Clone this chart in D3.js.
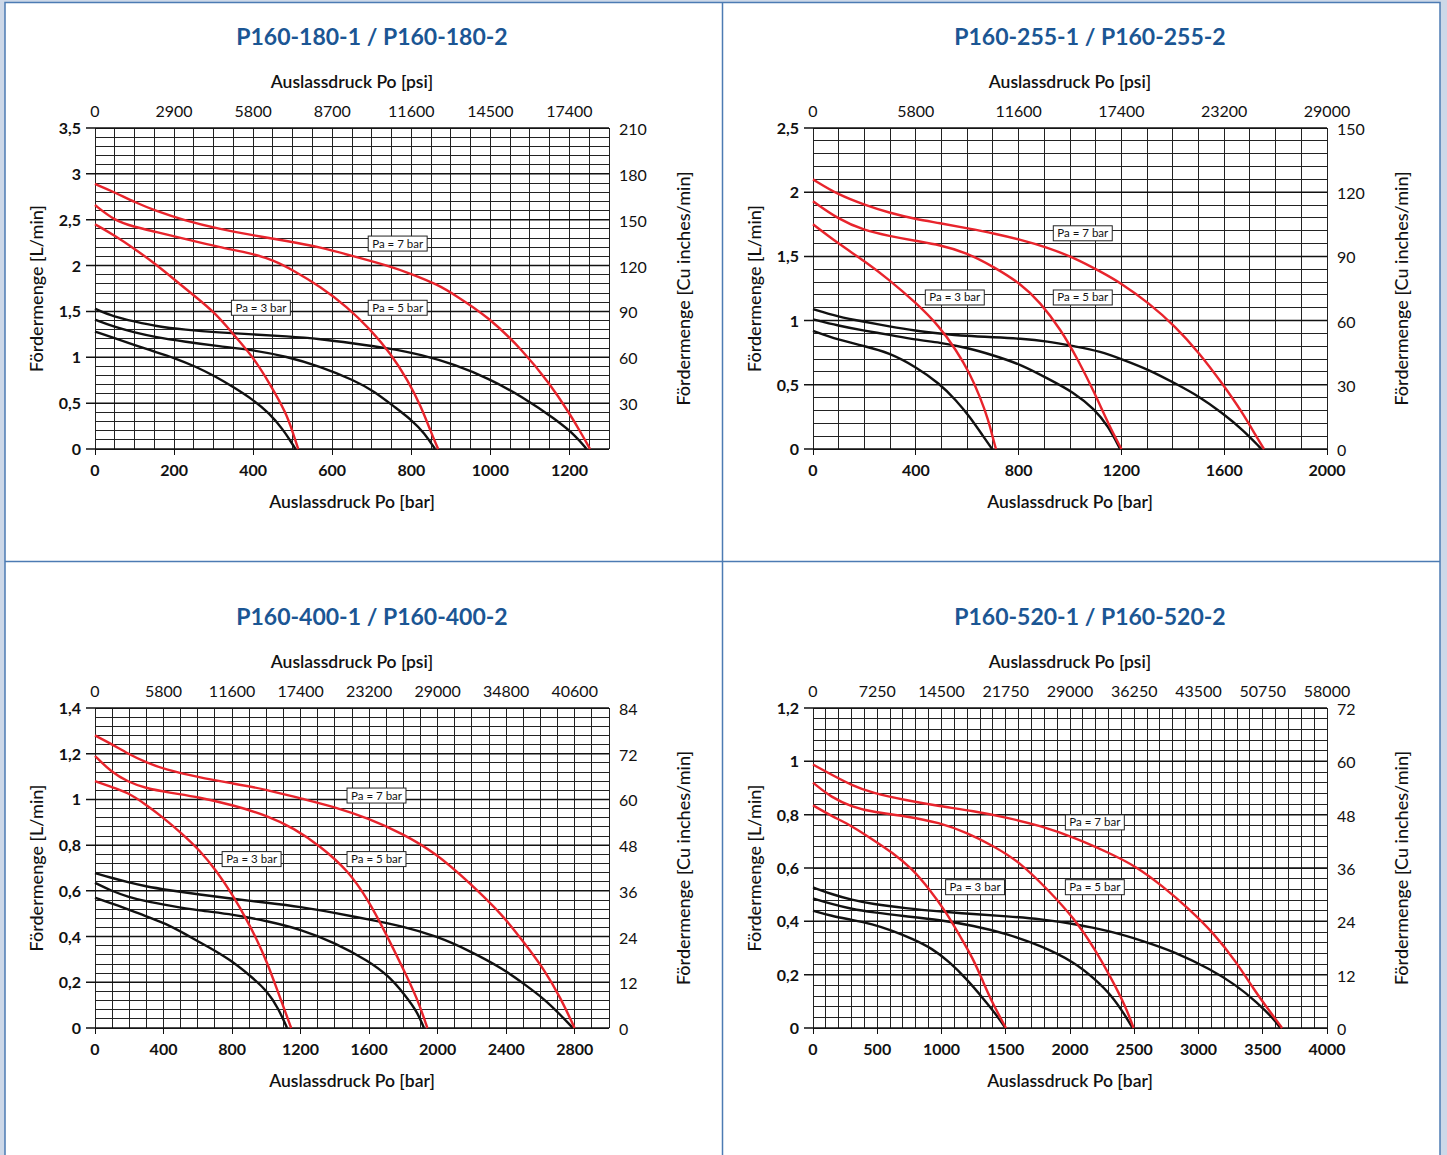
<!DOCTYPE html>
<html>
<head>
<meta charset="utf-8">
<script src="https://cdn.jsdelivr.net/npm/d3@7"></script>
<style>
  body { margin: 0; background: #fff; }
  text { font-family: Lato, "Open Sans", sans-serif; fill: #111; }
</style>
</head>
<body>
<svg></svg>
<script>
// ---- data ----
const titles = ["P160-180-1 / P160-180-2", "P160-255-1 / P160-255-2",
    "P160-400-1 / P160-400-2", "P160-520-1 / P160-520-2"];

const barMax = [1300, 2000, 3000, 4000];
const flowMax = [3.5, 2.5, 1.4, 1.2];

const barTicks180 = [0, 200, 400, 600, 800, 1000, 1200];
const barTicks255 = [0, 400, 800, 1200, 1600, 2000];
const barTicks400 = [0, 400, 800, 1200, 1600, 2000, 2400, 2800];
const barTicks520 = [0, 500, 1000, 1500, 2000, 2500, 3000, 3500, 4000];

const psiTicks180 = [0, 2900, 5800, 8700, 11600, 14500, 17400];
const psiTicks255 = [0, 5800, 11600, 17400, 23200, 29000];
const psiTicks400 = [0, 5800, 11600, 17400, 23200, 29000, 34800, 40600];
const psiTicks520 = [0, 7250, 14500, 21750, 29000, 36250, 43500, 50750, 58000];

const flowTicks180 = [0, 0.5, 1, 1.5, 2, 2.5, 3, 3.5];
const flowTicks255 = [0, 0.5, 1, 1.5, 2, 2.5];
const flowTicks400 = [0, 0.2, 0.4, 0.6, 0.8, 1, 1.2, 1.4];
const flowTicks520 = [0, 0.2, 0.4, 0.6, 0.8, 1, 1.2];

const cuTicks180 = [30, 60, 90, 120, 150, 180, 210];
const cuTicks255 = [0, 30, 60, 90, 120, 150];
const cuTicks400 = [0, 12, 24, 36, 48, 60, 72, 84];
const cuTicks520 = [0, 12, 24, 36, 48, 60, 72];

// [bar, L/min]
const p180_red3 = [[0,2.45],[49,2.33],[101,2.18],[152,2.02],[203,1.84],[254,1.66],[305,1.48],[348,1.26],[399,1.01],[441,0.72],[484,0.39],[501,0.17],[514,0]];
const p180_red5 = [[0,2.66],[49,2.49],[101,2.42],[152,2.37],[228,2.29],[314,2.20],[399,2.13],[450,2.06],[501,1.95],[570,1.77],[638,1.55],[697,1.30],[748,1.04],[791,0.75],[825,0.46],[851,0.17],[868,0]];
const p180_red7 = [[0,2.89],[49,2.80],[101,2.69],[152,2.60],[228,2.49],[314,2.40],[399,2.33],[484,2.27],[570,2.20],[655,2.10],[740,2.00],[800,1.91],[868,1.79],[910,1.68],[995,1.44],[1081,1.08],[1149,0.72],[1200,0.39],[1234,0.14],[1252,0]];
const p180_blk1 = [[0,1.28],[49,1.21],[101,1.13],[152,1.06],[203,0.99],[254,0.90],[305,0.79],[348,0.68],[399,0.54],[441,0.39],[476,0.21],[497,0.07],[507,0]];
const p180_blk2 = [[0,1.41],[49,1.33],[101,1.27],[152,1.22],[228,1.17],[314,1.12],[399,1.08],[484,1.01],[570,0.90],[655,0.75],[706,0.63],[757,0.46],[800,0.32],[834,0.17],[860,0]];
const p180_blk3 = [[0,1.53],[49,1.44],[101,1.39],[152,1.34],[228,1.30],[314,1.27],[399,1.25],[484,1.23],[570,1.20],[655,1.15],[740,1.10],[825,1.03],[910,0.92],[995,0.77],[1081,0.57],[1166,0.32],[1217,0.14],[1243,0]];

const p255_red3 = [[0,1.75],[98,1.60],[203,1.46],[295,1.32],[400,1.14],[492,0.955],[557,0.77],[610,0.59],[649,0.41],[682,0.23],[702,0.07],[712,0]];
const p255_red5 = [[0,1.93],[98,1.79],[203,1.70],[295,1.66],[400,1.62],[492,1.59],[597,1.53],[702,1.42],[807,1.29],[885,1.14],[964,0.93],[1030,0.70],[1095,0.44],[1148,0.20],[1200,0]];
const p255_red7 = [[0,2.10],[98,1.98],[203,1.90],[295,1.84],[400,1.79],[492,1.76],[597,1.72],[702,1.68],[807,1.63],[912,1.57],[1016,1.49],[1121,1.38],[1200,1.29],[1305,1.14],[1410,0.955],[1502,0.75],[1593,0.51],[1672,0.28],[1724,0.10],[1755,0]];
const p255_blk1 = [[0,0.92],[98,0.85],[203,0.80],[295,0.75],[400,0.64],[492,0.51],[557,0.38],[610,0.25],[662,0.10],[697,0]];
const p255_blk2 = [[0,1.01],[98,0.96],[203,0.92],[295,0.89],[400,0.85],[492,0.83],[597,0.79],[702,0.73],[807,0.66],[912,0.55],[1016,0.44],[1095,0.31],[1148,0.18],[1195,0]];
const p255_blk3 = [[0,1.09],[98,1.03],[203,0.99],[295,0.955],[400,0.92],[492,0.90],[597,0.88],[702,0.87],[807,0.86],[912,0.84],[1016,0.80],[1121,0.76],[1200,0.70],[1305,0.62],[1410,0.51],[1502,0.41],[1593,0.28],[1672,0.15],[1745,0]];

const p400_red3 = [[0,1.08],[95,1.055],[193,1.03],[292,0.98],[391,0.925],[509,0.85],[608,0.78],[707,0.69],[805,0.58],[884,0.475],[943,0.39],[1003,0.29],[1062,0.17],[1111,0.07],[1145,0]];
const p400_red5 = [[0,1.19],[95,1.12],[193,1.077],[292,1.05],[430,1.03],[608,1.01],[805,0.975],[1003,0.93],[1161,0.874],[1318,0.794],[1476,0.69],[1595,0.56],[1693,0.42],[1792,0.27],[1881,0.13],[1940,0]];
const p400_red7 = [[0,1.28],[95,1.243],[193,1.20],[292,1.164],[411,1.13],[608,1.096],[805,1.07],[1003,1.043],[1200,1.004],[1397,0.968],[1595,0.917],[1792,0.852],[1990,0.765],[2187,0.635],[2385,0.49],[2503,0.374],[2621,0.258],[2720,0.128],[2799,0]];
const p400_blk1 = [[0,0.57],[95,0.545],[193,0.52],[292,0.49],[411,0.458],[529,0.41],[667,0.352],[786,0.30],[904,0.23],[1003,0.164],[1072,0.084],[1121,0]];
const p400_blk2 = [[0,0.635],[95,0.60],[193,0.574],[292,0.555],[430,0.536],[608,0.514],[805,0.497],[1003,0.468],[1200,0.432],[1397,0.374],[1595,0.294],[1713,0.229],[1812,0.142],[1881,0.07],[1920,0]];
const p400_blk3 = [[0,0.678],[95,0.657],[193,0.638],[292,0.62],[430,0.603],[608,0.584],[805,0.565],[1003,0.548],[1200,0.53],[1397,0.504],[1595,0.475],[1792,0.446],[1990,0.403],[2187,0.338],[2385,0.258],[2503,0.193],[2621,0.128],[2720,0.055],[2789,0]];

const p520_red3 = [[0,0.835],[144,0.795],[302,0.758],[460,0.708],[617,0.658],[775,0.596],[906,0.52],[1037,0.434],[1142,0.346],[1247,0.26],[1326,0.17],[1405,0.085],[1502,0]];
const p520_red5 = [[0,0.92],[144,0.864],[302,0.83],[460,0.81],[722,0.795],[985,0.77],[1195,0.733],[1405,0.683],[1615,0.62],[1825,0.52],[2035,0.41],[2193,0.297],[2324,0.184],[2429,0.085],[2495,0]];
const p520_red7 = [[0,0.988],[144,0.95],[302,0.91],[460,0.882],[722,0.854],[985,0.832],[1247,0.814],[1510,0.789],[1773,0.758],[2035,0.714],[2298,0.658],[2508,0.608],[2718,0.533],[2928,0.446],[3112,0.359],[3296,0.247],[3427,0.147],[3558,0.06],[3650,0]];
const p520_blk1 = [[0,0.44],[144,0.42],[302,0.406],[460,0.39],[617,0.365],[775,0.334],[932,0.297],[1063,0.247],[1195,0.184],[1326,0.11],[1431,0.047],[1497,0]];
const p520_blk2 = [[0,0.486],[144,0.465],[302,0.446],[460,0.434],[722,0.419],[985,0.405],[1247,0.384],[1510,0.353],[1773,0.309],[2035,0.247],[2193,0.184],[2324,0.122],[2429,0.047],[2487,0]];
const p520_blk3 = [[0,0.527],[144,0.502],[302,0.48],[460,0.465],[722,0.449],[985,0.437],[1247,0.427],[1510,0.419],[1773,0.409],[2035,0.39],[2298,0.365],[2560,0.328],[2823,0.284],[3086,0.222],[3296,0.16],[3453,0.097],[3584,0.035],[3637,0]];

// label anchors in data units [bar, L/min]
const paLabels = ["Pa = 7 bar", "Pa = 3 bar", "Pa = 5 bar"];
const paAnchors180 = [[691, 2.24], [345, 1.54], [691, 1.54]];
const paAnchors255 = [[935, 1.68], [437, 1.18], [935, 1.18]];
const paAnchors400 = [[1471, 1.017], [742, 0.739], [1471, 0.739]];
const paAnchors520 = [[1964, 0.771], [1032, 0.528], [1964, 0.528]];

// ---- layout ----
const W = 1447, H = 1155;
const svg = d3.select("svg").attr("width", W).attr("height", H);

const panels = [
    {i: 0, left: 95, top: 128, h: 321, cx: 372, xStep: 50, yStep: 0.1,
     barTicks: barTicks180, psiTicks: psiTicks180, flowTicks: flowTicks180, cuTicks: cuTicks180,
     red: [p180_red3, p180_red5, p180_red7], blk: [p180_blk1, p180_blk2, p180_blk3], anchors: paAnchors180},
    {i: 1, left: 813, top: 128, h: 321, cx: 1090, xStep: 100, yStep: 0.1,
     barTicks: barTicks255, psiTicks: psiTicks255, flowTicks: flowTicks255, cuTicks: cuTicks255,
     red: [p255_red3, p255_red5, p255_red7], blk: [p255_blk1, p255_blk2, p255_blk3], anchors: paAnchors255},
    {i: 2, left: 95, top: 708, h: 320, cx: 372, xStep: 100, yStep: 0.04,
     barTicks: barTicks400, psiTicks: psiTicks400, flowTicks: flowTicks400, cuTicks: cuTicks400,
     red: [p400_red3, p400_red5, p400_red7], blk: [p400_blk1, p400_blk2, p400_blk3], anchors: paAnchors400},
    {i: 3, left: 813, top: 708, h: 320, cx: 1090, xStep: 100, yStep: 0.04,
     barTicks: barTicks520, psiTicks: psiTicks520, flowTicks: flowTicks520, cuTicks: cuTicks520,
     red: [p520_red3, p520_red5, p520_red7], blk: [p520_blk1, p520_blk2, p520_blk3], anchors: paAnchors520}
];
const plotW = 514;

// frame
svg.append("rect").attr("width", W).attr("height", H).attr("fill", "#cdd8e8");
svg.append("rect").attr("x", 5).attr("y", 2.5).attr("width", 1435).attr("height", H)
    .attr("fill", "#fff").attr("stroke", "#4c7bb3").attr("stroke-width", 1.5);
svg.append("line").attr("x1", 722.5).attr("x2", 722.5).attr("y1", 2).attr("y2", H)
    .attr("stroke", "#4c7bb3").attr("stroke-width", 1.5);
svg.append("line").attr("x1", 5).attr("x2", 1440).attr("y1", 561.5).attr("y2", 561.5)
    .attr("stroke", "#4c7bb3").attr("stroke-width", 1.5);

const fmtFlow = d3.formatLocale({decimal: ",", thousands: ".", grouping: [3], currency: ["", ""]}).format(".1~f");

panels.forEach(p => {
    const g = svg.append("g").attr("transform", `translate(${p.left},${p.top})`);
    const h = p.h;
    const xMax = barMax[p.i], yMax = flowMax[p.i];

    const x = d3.scaleLinear().domain([0, xMax]).range([0, plotW]);
    const xPsi = d3.scaleLinear().domain([0, xMax * 14.5]).range([0, plotW]);
    const y = d3.scaleLinear().domain([0, yMax]).range([h, 0]);
    const yCu = d3.scaleLinear().domain([0, yMax * 60]).range([h, 0]);

    // title
    svg.append("text").attr("x", p.cx).attr("y", p.top - 83)
        .attr("text-anchor", "middle").style("font-size", "23px").style("font-weight", 700)
        .style("fill", "#1b5694").text(titles[p.i]);

    // grid
    const grid = g.append("g").attr("shape-rendering", "crispEdges");
    const vx = d3.range(0, xMax + p.xStep / 2, p.xStep);
    grid.selectAll(".v").data(vx).enter().append("line")
        .attr("x1", d => x(d)).attr("x2", d => x(d)).attr("y1", 0).attr("y2", h)
        .attr("stroke", "#222").attr("stroke-width", 1);
    const nh = Math.round(yMax / p.yStep);
    const hy = d3.range(0, nh + 1).map(k => k * p.yStep);
    grid.selectAll(".h").data(hy).enter().append("line")
        .attr("x1", 0).attr("x2", plotW).attr("y1", d => y(d)).attr("y2", d => y(d))
        .attr("stroke", "#222").attr("stroke-width", 1);
    g.append("g").selectAll(".hm").data(p.flowTicks).enter().append("line")
        .attr("x1", -9).attr("x2", plotW).attr("y1", d => y(d)).attr("y2", d => y(d))
        .attr("stroke", "#111").attr("stroke-width", 1.5);
    grid.selectAll(".bt").data(p.barTicks).enter().append("line")
        .attr("x1", d => x(d)).attr("x2", d => x(d)).attr("y1", h).attr("y2", h + 6)
        .attr("stroke", "#111").attr("stroke-width", 1);

    // bottom axis (bar)
    g.selectAll(".bl").data(p.barTicks).enter().append("text")
        .attr("x", d => x(d)).attr("y", h + 27).attr("text-anchor", "middle")
        .style("font-size", "16px").style("font-weight", 700).text(d => d);
    g.append("text").attr("x", plotW / 2).attr("y", h + 59).attr("text-anchor", "middle")
        .style("font-size", "17.5px").style("font-weight", 600).text("Auslassdruck Po [bar]");

    // top axis (psi)
    g.selectAll(".pl").data(p.psiTicks).enter().append("text")
        .attr("x", d => xPsi(d)).attr("y", -11).attr("text-anchor", "middle")
        .style("font-size", "16px").text(d => d);
    g.append("text").attr("x", plotW / 2).attr("y", -40).attr("text-anchor", "middle")
        .style("font-size", "17.5px").style("font-weight", 600).text("Auslassdruck Po [psi]");

    // left axis (L/min)
    g.selectAll(".fl").data(p.flowTicks).enter().append("text")
        .attr("x", -14).attr("y", d => y(d) + 6).attr("text-anchor", "end")
        .style("font-size", "16px").style("font-weight", 700).text(d => fmtFlow(d));
    g.append("text").attr("transform", `translate(-52,${h / 2}) rotate(-90)`)
        .attr("text-anchor", "middle").style("font-size", "18px").style("font-weight", 500)
        .text("Fördermenge [L/min]");

    // right axis (cu inches/min)
    g.selectAll(".cl").data(p.cuTicks).enter().append("text")
        .attr("x", plotW + 10).attr("y", d => yCu(d) + 7)
        .style("font-size", "16px").text(d => d);
    g.append("text").attr("transform", `translate(${plotW + 81},${h / 2}) rotate(-90)`)
        .attr("text-anchor", "middle").style("font-size", "18px").style("font-weight", 500)
        .text("Fördermenge [Cu inches/min]");

    // curves
    const line = d3.line().x(d => x(d[0])).y(d => y(d[1])).curve(d3.curveBasis);
    g.selectAll(".blk").data(p.blk).enter().append("path")
        .attr("d", line).attr("fill", "none").attr("stroke", "#111").attr("stroke-width", 2.4);
    g.selectAll(".red").data(p.red).enter().append("path")
        .attr("d", line).attr("fill", "none").attr("stroke", "#e8242c").attr("stroke-width", 2.4);

    // Pa labels
    p.anchors.forEach((a, k) => {
        const lg = g.append("g").attr("transform", `translate(${x(a[0])},${y(a[1])})`);
        const t = lg.append("text").attr("x", 4).attr("y", 4).style("font-size", "11.5px").text(paLabels[k]);
        const bw = t.node().getComputedTextLength() + 8;
        lg.insert("rect", "text").attr("x", 0).attr("y", -7.5).attr("width", bw).attr("height", 15)
            .attr("fill", "#fff").attr("stroke", "#222").attr("stroke-width", 1);
    });
});
</script>
</body>
</html>
